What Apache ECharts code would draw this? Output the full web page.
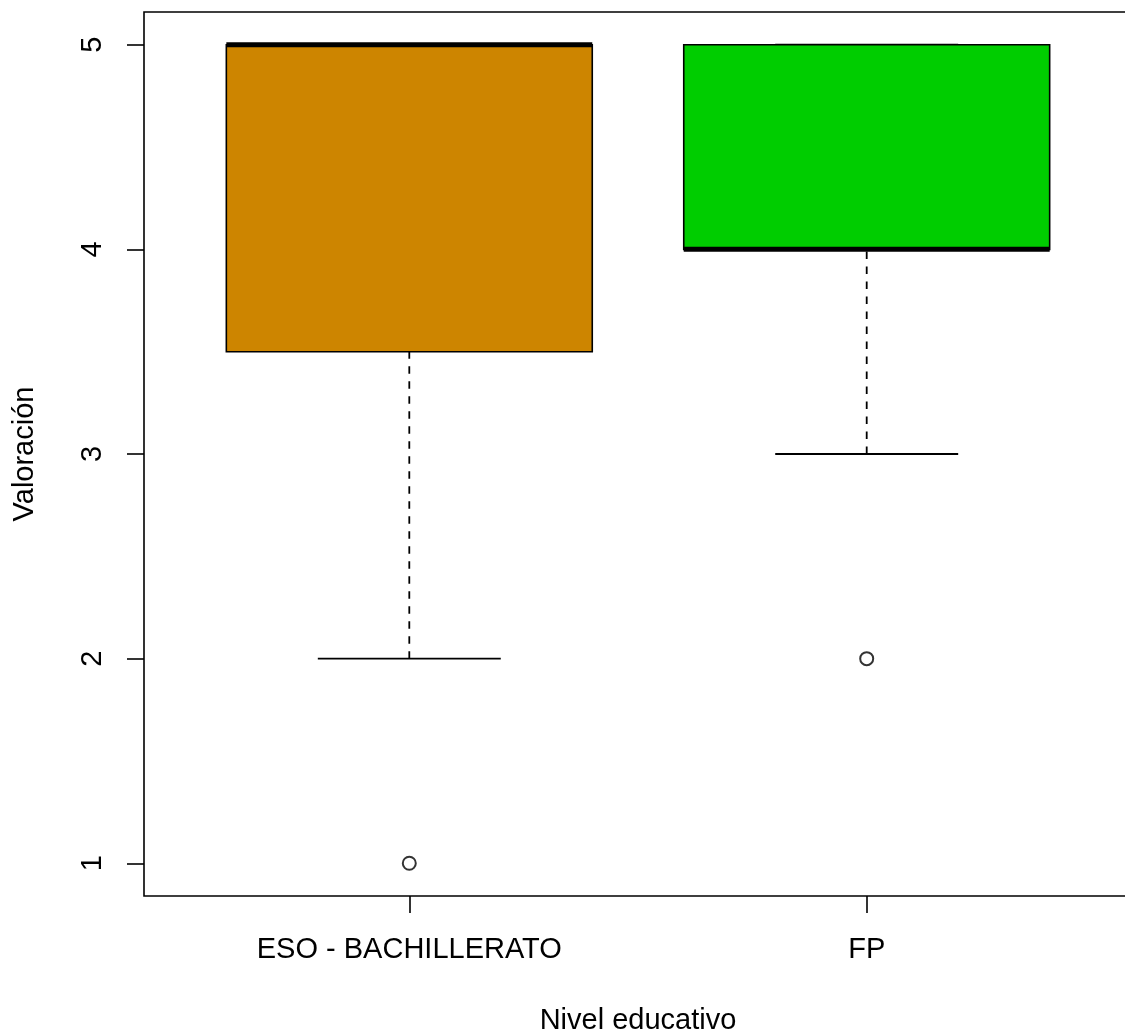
<!DOCTYPE html>
<html>
<head>
<meta charset="utf-8">
<script src="https://cdn.jsdelivr.net/npm/echarts@6/dist/echarts.min.js"></script>
<style>
html,body{margin:0;padding:0;background:#fff;}
#chart{width:1125px;height:1032px;}
</style>
</head>
<body>
<div id="chart"></div>
<script>
const categories = ['ESO - BACHILLERATO', 'FP'];
const positions = [1, 2];
const whiskerLow = [2, 3];
const q1 = [3.5, 4];
const median = [5, 4];
const q3 = [5, 5];
const whiskerHigh = [5, 5];
const outliers = [[1, 1], [2, 2]];
const boxColors = ['#CD8500', '#00CD00'];
const yTicks = [1, 2, 3, 4, 5];

const FONT = '"Liberation Sans", Arial, sans-serif';
const BOX_HALF = 0.4;
const CAP_HALF = 0.2;

const boxData = positions.map((x, i) => [x, whiskerLow[i], q1[i], median[i], q3[i], whiskerHigh[i]]);

function renderItem(params, api) {
  const x = api.value(0);
  const lo = api.value(1), a = api.value(2), m = api.value(3), b = api.value(4), hi = api.value(5);
  const p = (xx, yy) => api.coord([xx, yy]);
  const children = [];
  const dash = { stroke: '#000', lineWidth: 1.8, lineDash: [7.5, 7.5] };
  const solid = { stroke: '#000', lineWidth: 1.8 };
  if (hi > b) {
    const s = p(x, b), e = p(x, hi);
    children.push({ type: 'line', shape: { x1: s[0], y1: s[1], x2: e[0], y2: e[1] }, style: dash });
  }
  if (a > lo) {
    const s = p(x, lo), e = p(x, a);
    children.push({ type: 'line', shape: { x1: s[0], y1: s[1], x2: e[0], y2: e[1] }, style: dash });
  }
  [lo, hi].forEach(v => {
    const s = p(x - CAP_HALF, v), e = p(x + CAP_HALF, v);
    children.push({ type: 'line', shape: { x1: s[0], y1: s[1], x2: e[0], y2: e[1] }, style: solid });
  });
  const tl = p(x - BOX_HALF, b), br = p(x + BOX_HALF, a);
  children.push({
    type: 'rect',
    shape: { x: tl[0], y: tl[1], width: br[0] - tl[0], height: br[1] - tl[1] },
    style: { fill: boxColors[params.dataIndex], stroke: '#000', lineWidth: 1.6 }
  });
  const ms = p(x - BOX_HALF, m), me = p(x + BOX_HALF, m);
  children.push({ type: 'line', shape: { x1: ms[0], y1: ms[1], x2: me[0], y2: me[1] }, style: { stroke: '#000', lineWidth: 5 } });
  return { type: 'group', children };
}

const chart = echarts.init(document.getElementById('chart'), null, { renderer: 'canvas' });
chart.setOption({
  backgroundColor: '#fff',
  animation: false,
  grid: { left: 144, top: 12, width: 988, height: 884, show: true, borderColor: '#000', borderWidth: 1.6, containLabel: false, outerBoundsMode: 'none' },
  xAxis: {
    type: 'value', min: 0.42, max: 2.58,
    name: 'Nivel educativo', nameLocation: 'middle', nameGap: 110,
    nameTextStyle: { fontFamily: FONT, fontSize: 29, color: '#000' },
    axisLine: { show: false },
    splitLine: { show: false },
    axisTick: { show: true, length: 17, lineStyle: { color: '#000', width: 1.6 }, customValues: positions },
    axisLabel: {
      fontFamily: FONT, fontSize: 29, color: '#000', margin: 39,
      customValues: positions,
      formatter: v => categories[positions.indexOf(v)] || ''
    }
  },
  yAxis: {
    type: 'value', min: 0.84, max: 5.16,
    name: 'Valoración', nameLocation: 'middle', nameGap: 105,
    nameTextStyle: { fontFamily: FONT, fontSize: 29, color: '#000' },
    axisLine: { show: false },
    splitLine: { show: false },
    axisTick: { show: true, length: 17, lineStyle: { color: '#000', width: 1.6 }, customValues: yTicks },
    axisLabel: {
      fontFamily: FONT, fontSize: 29, color: '#000', margin: 37, rotate: 90,
      customValues: yTicks,
      formatter: v => String(v)
    }
  },
  series: [
    {
      type: 'custom',
      renderItem: renderItem,
      data: boxData,
      encode: { x: 0, y: [1, 2, 3, 4, 5] },
      z: 2
    },
    {
      type: 'scatter',
      data: outliers,
      symbol: 'emptyCircle',
      symbolSize: 13,
      itemStyle: { color: '#000', borderColor: '#000', borderWidth: 1.6 },
      z: 3
    }
  ]
});
</script>
</body>
</html>
